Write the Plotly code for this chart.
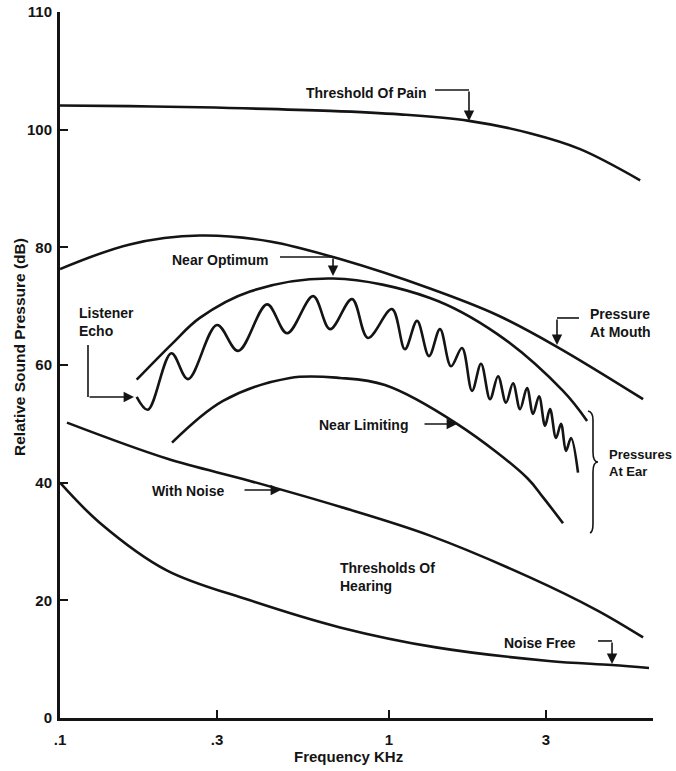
import plotly.graph_objects as go

# ---------------- data (frequency in kHz, level in dB) ----------------
pain_f = [0.10, 0.163, 0.266, 0.662, 1.08, 1.75, 2.68, 3.81, 5.80]
pain_db = [104.1, 104.0, 103.8, 103.2, 102.6, 101.5, 99.4, 96.7, 91.4]

mouth_f = [0.100, 0.163, 0.266, 0.435, 0.710, 1.332, 2.13, 3.24, 5.92]
mouth_db = [76.3, 80.5, 82.0, 81.0, 78.0, 73.0, 68.5, 63.1, 54.2]

optimum_f = [0.171, 0.219, 0.266, 0.378, 0.676, 1.332, 2.13, 3.38, 4.00]
optimum_db = [57.5, 63.6, 68.0, 72.5, 74.7, 71.4, 65.3, 55.6, 50.5]

echo_f = [0.171, 0.185, 0.218, 0.245, 0.300, 0.348, 0.426, 0.490, 0.588, 0.662,
          0.772, 0.863, 1.021, 1.118, 1.217, 1.323, 1.429, 1.543, 1.667, 1.788,
          1.904, 2.028, 2.145, 2.268, 2.382, 2.502, 2.627, 2.740, 2.858, 2.980,
          3.086, 3.218, 3.333, 3.451, 3.574, 3.754]
echo_db = [54.6, 52.4, 62.0, 57.6, 66.8, 62.4, 70.3, 65.4, 71.7, 66.1,
           71.2, 64.6, 69.5, 62.7, 67.5, 61.5, 66.1, 59.8, 62.9, 55.6,
           60.2, 54.2, 58.1, 53.6, 56.9, 52.5, 56.1, 51.7, 54.7, 49.7,
           52.5, 47.6, 50.0, 45.4, 47.6, 41.7]

limiting_f = [0.219, 0.313, 0.500, 0.710, 0.972, 1.61, 2.63, 2.94, 3.38]
limiting_db = [46.8, 53.9, 57.8, 57.8, 56.6, 50.0, 40.8, 37.5, 33.1]

noise_f = [0.105, 0.211, 0.378, 0.710, 1.332, 2.68, 4.29, 5.92]
noise_db = [50.2, 44.1, 40.3, 35.9, 31.0, 23.9, 18.3, 13.7]

quiet_f = [0.100, 0.132, 0.211, 0.378, 0.710, 1.39, 3.06, 4.76, 6.17]
quiet_db = [40.0, 33.2, 25.1, 20.0, 15.4, 12.0, 9.7, 9.0, 8.5]

x_tickvals = [0.1, 0.3, 1, 3]
x_ticktext = [".1", ".3", "1", "3"]
y_tickvals = [0, 20, 40, 60, 80, 100, 120]
y_ticktext = ["0", "20", "40", "60", "80", "100", "110"]

# ---------------- figure ----------------
FONT = "Liberation Sans, Arial, Helvetica, sans-serif"
INK = "#141414"

fig = go.Figure()
series = [
    ("Threshold Of Pain", pain_f, pain_db),
    ("Pressure At Mouth", mouth_f, mouth_db),
    ("Near Optimum", optimum_f, optimum_db),
    ("Listener Echo", echo_f, echo_db),
    ("Near Limiting", limiting_f, limiting_db),
    ("With Noise", noise_f, noise_db),
    ("Noise Free", quiet_f, quiet_db),
]
for name, xs, ys in series:
    fig.add_trace(go.Scatter(
        x=xs, y=ys, mode="lines", name=name,
        line=dict(color=INK, width=2.6, shape="spline", smoothing=1.0),
        hoverinfo="name+x+y",
    ))

lab_font = dict(family=FONT, size=14, color=INK, weight="bold")

def label(text, x, y, xanchor="left", size=14):
    f = dict(lab_font)
    f["size"] = size
    fig.add_annotation(text=text, x=x, y=y, xref="paper", yref="paper",
                       xanchor=xanchor, yanchor="middle", align="left",
                       showarrow=False, font=f)

def arrow(x, y, ax, ay):
    fig.add_annotation(text="", x=x, y=y, xref="paper", yref="paper",
                       ax=ax, ay=ay, showarrow=True, arrowhead=2,
                       arrowsize=1.3, arrowwidth=1.6, arrowcolor=INK,
                       standoff=0, startstandoff=0)

def seg(x0, y0, x1, y1):
    fig.add_shape(type="line", xref="paper", yref="paper",
                  x0=x0, y0=y0, x1=x1, y1=y1,
                  line=dict(color=INK, width=1.6))

# Threshold of pain
label("Threshold Of Pain", 0.6223, 0.8853, "right")
seg(0.6324, 0.8895, 0.6897, 0.8895)
arrow(0.6897, 0.8456, 0, -31)
# Near optimum
label("Near Optimum", 0.1855, 0.6487)
seg(0.3710, 0.6530, 0.4604, 0.6530)
arrow(0.4604, 0.6261, 0, -19)
# Listener echo
label("Listener<br>Echo", 0.0287, 0.5609)
seg(0.0472, 0.5283, 0.0472, 0.4547)
arrow(0.1248, 0.4547, -46, 0)
# Pressure at mouth
label("Pressure<br>At Mouth", 0.8904, 0.5595)
seg(0.8381, 0.5666, 0.8752, 0.5666)
arrow(0.8381, 0.5283, 0, -27)
# Near limiting
label("Near Limiting", 0.5902, 0.4150, "right")
arrow(0.6695, 0.4164, -34, 0)
# Pressures at ear with brace
label("Pressures<br>At Ear", 0.9232, 0.3612, size=13)
fig.add_shape(type="path", xref="paper", yref="paper",
              path=("M 0.8904 0.4348 Q 0.8988 0.4335 0.8988 0.4221 "
                    "L 0.8988 0.3768 Q 0.8988 0.3626 0.9073 0.3626 "
                    "Q 0.8988 0.3626 0.8988 0.3484 L 0.8988 0.2748 "
                    "Q 0.8988 0.2640 0.8938 0.2620"),
              line=dict(color=INK, width=1.6))
# With noise
label("With Noise", 0.1518, 0.3215)
arrow(0.3727, 0.3229, -38, 0)
# Thresholds of hearing
label("Thresholds Of<br>Hearing", 0.4688, 0.1997)
# Noise free
label("Noise Free", 0.7454, 0.1062)
seg(0.9073, 0.1091, 0.9309, 0.1091)
arrow(0.9309, 0.0765, 0, -23)

# axis titles
fig.add_annotation(text="Frequency KHz", x=0.487, y=-0.0552, xref="paper", yref="paper",
                   xanchor="center", yanchor="middle", showarrow=False,
                   font=dict(family=FONT, size=15, color=INK, weight="bold"))
fig.add_annotation(text="Relative Sound Pressure (dB)", x=-0.0675, y=0.5255,
                   xref="paper", yref="paper", textangle=-90,
                   xanchor="center", yanchor="middle", showarrow=False,
                   font=dict(family=FONT, size=15.5, color=INK, weight="bold"))

axis_common = dict(showline=True, linewidth=3, linecolor=INK, showgrid=False,
                   zeroline=False, ticks="inside", ticklen=8, tickwidth=2,
                   tickcolor=INK, automargin=False,
                   tickfont=dict(family=FONT, size=15, color=INK, weight="bold"))
fig.update_xaxes(type="log", range=[-1, 0.8024], tickvals=x_tickvals,
                 ticktext=x_ticktext, ticklabelstandoff=6, **axis_common)
fig.update_yaxes(range=[0, 120], tickvals=y_tickvals, ticktext=y_ticktext,
                 ticklabelstandoff=2, **axis_common)

fig.update_layout(width=676, height=771,
                  margin=dict(l=60, r=23, t=12, b=53, autoexpand=False),
                  paper_bgcolor="white", plot_bgcolor="white",
                  showlegend=False, font=dict(family=FONT, color=INK))

fig.write_html("out.html")
